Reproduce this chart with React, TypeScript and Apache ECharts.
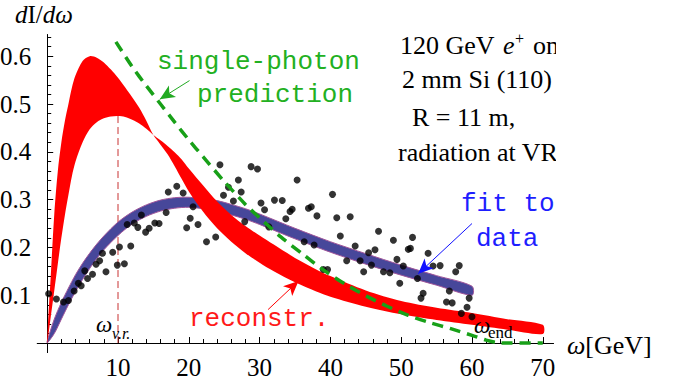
import React, { useEffect, useRef } from 'react';
import * as echarts from 'echarts';

// ---- axis ticks ----
const xTickLabels = [10, 20, 30, 40, 50, 60, 70];
const xMinorTicks = [2, 4, 6, 8, 12, 14, 16, 18, 22, 24, 26, 28, 32, 34, 36, 38, 42, 44, 46, 48, 52, 54, 56, 58, 62, 64, 66, 68];
const yTickLabels = [0.1, 0.2, 0.3, 0.4, 0.5, 0.6];
const yMinorTicks = [0.02, 0.04, 0.06, 0.08, 0.12, 0.14, 0.16, 0.18, 0.22, 0.24, 0.26, 0.28, 0.32, 0.34, 0.36, 0.38, 0.42, 0.44, 0.46, 0.48, 0.52, 0.54, 0.56, 0.58, 0.62, 0.64];

// ---- reconstruction band (red): two bounding curves ----
const reconOmega = [0, 0.5, 1, 1.5, 2, 2.5, 3, 3.5, 4, 5, 6, 7, 8, 9, 10, 11, 12, 13, 14, 15, 16, 17, 18, 19, 20, 22, 24, 26, 28, 30, 32, 35, 38, 40, 45, 50, 55, 60, 65, 70];
const reconCurveA = [0, 0.14, 0.27, 0.36, 0.42, 0.465, 0.5, 0.535, 0.56, 0.59, 0.6, 0.597, 0.587, 0.572, 0.555, 0.535, 0.514, 0.492, 0.465, 0.435, 0.415, 0.395, 0.37, 0.343, 0.317, 0.275, 0.24, 0.212, 0.188, 0.168, 0.15, 0.127, 0.108, 0.097, 0.076, 0.06, 0.048, 0.038, 0.028, 0.019];
const reconCurveB = [0, 0.055, 0.11, 0.166, 0.22, 0.268, 0.31, 0.35, 0.38, 0.42, 0.447, 0.462, 0.47, 0.474, 0.475, 0.473, 0.467, 0.459, 0.448, 0.435, 0.424, 0.412, 0.399, 0.384, 0.365, 0.33, 0.296, 0.268, 0.245, 0.225, 0.206, 0.178, 0.154, 0.14, 0.11, 0.088, 0.074, 0.063, 0.05, 0.038];

// ---- fit to data band (blue) ----
const fitOmega = [0, 1, 2, 3, 4, 5, 6, 7, 8, 10, 12, 14, 16, 18, 20, 22, 24, 26, 28, 30, 35, 40, 45, 50, 55, 60];
const fitLower = [0, 0.02, 0.05, 0.08, 0.108, 0.133, 0.156, 0.177, 0.195, 0.225, 0.249, 0.265, 0.276, 0.282, 0.284, 0.281, 0.276, 0.268, 0.259, 0.248, 0.218, 0.19, 0.165, 0.142, 0.121, 0.1];
const fitUpper = [0.004, 0.05, 0.085, 0.115, 0.143, 0.167, 0.188, 0.207, 0.224, 0.253, 0.274, 0.289, 0.299, 0.304, 0.305, 0.302, 0.298, 0.29, 0.281, 0.27, 0.24, 0.212, 0.187, 0.163, 0.141, 0.119];

// ---- single-photon prediction (green dashed) ----
const predOmega = [9.7, 12, 14, 16, 18, 20, 22, 25, 28, 30, 33, 36, 39, 42, 45, 48, 51, 54, 57, 60, 62, 63.5, 65, 70];
const predValue = [0.63, 0.578, 0.538, 0.5, 0.462, 0.425, 0.39, 0.338, 0.29, 0.262, 0.222, 0.187, 0.153, 0.124, 0.099, 0.077, 0.058, 0.043, 0.03, 0.016, 0.006, 0.001, 0, 0];

// ---- measured data points ----
const dataOmega = [0.2, 1.3, 2.3, 3.0, 3.8, 4.4, 4.8, 5.3, 5.7, 6.4, 6.9, 7.4, 7.8, 8.3, 9.25, 9.9, 10.2, 10.9, 11.8, 11.3, 12.3, 12.8, 13.3, 13.9, 14.4, 15.2, 15.8, 16.8, 17.1, 18.3, 19.2, 19.7, 20.2, 20.6, 21.3, 22.5, 23.8, 24.4, 24.9, 25.6, 26.3, 27.0, 27.4, 27.9, 28.8, 29.7, 30.2, 30.7, 31.3, 32.1, 33.2, 33.7, 34.3, 34.6, 35.3, 36.3, 36.9, 37.3, 37.7, 38.1, 39.0, 39.6, 40.3, 40.9, 41.4, 42.3, 42.8, 43.5, 44.2, 44.7, 45.4, 45.8, 46.3, 46.8, 47.5, 48.4, 48.9, 49.4, 49.8, 50.3, 51.0, 51.3, 51.6, 52.3, 52.8, 53.1, 53.8, 54.5, 55.5, 56.4, 56.8, 57.2, 57.7, 58.2, 58.5, 59.3, 59.6, 60.0];
const dataValue = [0.103, 0.092, 0.086, 0.089, 0.109, 0.125, 0.12, 0.151, 0.135, 0.144, 0.165, 0.172, 0.188, 0.149, 0.19, 0.163, 0.201, 0.166, 0.203, 0.248, 0.251, 0.242, 0.268, 0.232, 0.24, 0.251, 0.25, 0.273, 0.316, 0.328, 0.314, 0.241, 0.261, 0.285, 0.248, 0.212, 0.222, 0.373, 0.309, 0.326, 0.297, 0.341, 0.316, 0.254, 0.369, 0.364, 0.293, 0.279, 0.243, 0.299, 0.298, 0.26, 0.275, 0.28, 0.341, 0.212, 0.282, 0.285, 0.205, 0.266, 0.154, 0.154, 0.311, 0.262, 0.224, 0.172, 0.264, 0.203, 0.172, 0.149, 0.189, 0.163, 0.195, 0.234, 0.149, 0.147, 0.215, 0.175, 0.125, 0.161, 0.196, 0.198, 0.221, 0.135, 0.094, 0.104, 0.188, 0.161, 0.162, 0.086, 0.109, 0.084, 0.149, 0.162, 0.062, 0.075, 0.094, 0.055];

// ---- omega_v.r. marker ----
const vrOmega = [10, 10];
const vrValue = [0, 0.475];

const SERIF = 'Liberation Serif';
const MONO = 'Liberation Mono';

function band(name: string, xs: number[], first: number[], second: number[], fill: string, stroke: string, lw: number, z: number) {
  return {
    type: 'custom',
    name,
    z,
    silent: true,
    data: xs.map((x, i) => [x, first[i], second[i]]),
    encode: { x: 0, y: [1, 2] },
    renderItem: (params: any, api: any) => {
      if (params.dataIndex !== 0) return null;
      const pts: number[][] = [];
      for (let i = 0; i < xs.length; i++) pts.push(api.coord([xs[i], first[i]]));
      for (let i = xs.length - 1; i >= 0; i--) {
        if (i === 0 && first[0] === second[0]) continue;
        pts.push(api.coord([xs[i], second[i]]));
      }
      return {
        type: 'polygon',
        shape: { points: pts, smooth: 0.3 },
        style: { fill, stroke, lineWidth: lw },
      };
    },
  };
}

export default function App() {
  const ref = useRef<HTMLDivElement>(null);
  useEffect(() => {
    const chart = echarts.init(ref.current!, null, { renderer: 'svg' });
    const axisCommon = {
      type: 'value',
      splitLine: { show: false },
      axisLine: { show: true, onZero: true, onZeroAxisIndex: 0, lineStyle: { color: '#000', width: 1 } },
    };
    const option: any = {
      animation: false,
      backgroundColor: '#fff',
      grid: { left: 37.3, right: 128.6, top: 34.7, bottom: 27.4, containLabel: false, outerBoundsMode: 'none' },
      xAxis: [
        {
          ...axisCommon,
          position: 'bottom',
          min: -1.4,
          max: 71.5,
          axisTick: { show: true, inside: true, length: 6, customValues: xTickLabels, lineStyle: { color: '#000' } },
          axisLabel: { show: true, customValues: xTickLabels, color: '#000', fontFamily: SERIF, fontSize: 25, margin: 2, lineHeight: 26 },
        },
        {
          ...axisCommon,
          position: 'bottom',
          min: -1.4,
          max: 71.5,
          axisTick: { show: true, inside: true, length: 4, customValues: xMinorTicks, lineStyle: { color: '#000' } },
          axisLabel: { show: false },
        },
      ],
      yAxis: [
        {
          ...axisCommon,
          position: 'left',
          min: -0.02,
          max: 0.645,
          axisTick: { show: true, inside: true, length: 6, customValues: yTickLabels, lineStyle: { color: '#000' } },
          axisLabel: {
            show: true,
            customValues: yTickLabels,
            formatter: (v: number) => v.toFixed(1),
            color: '#000',
            fontFamily: SERIF,
            fontSize: 25,
            margin: 6,
          },
        },
        {
          ...axisCommon,
          position: 'left',
          min: -0.02,
          max: 0.645,
          axisTick: { show: true, inside: true, length: 4, customValues: yMinorTicks, lineStyle: { color: '#000' } },
          axisLabel: { show: false },
        },
      ],
      series: [
        {
          type: 'line',
          name: 'vr',
          z: 1,
          data: vrOmega.map((x, i) => [x, vrValue[i]]),
          showSymbol: false,
          silent: true,
          lineStyle: { color: '#c83232', width: 1, type: [7, 4] },
        },
        band('fit', fitOmega, fitUpper, fitLower, '#47479a', '#a0559a', 1, 2),
        band('reconstr', reconOmega, reconCurveA, reconCurveB, '#ff0000', 'none', 0, 3),
        {
          type: 'scatter',
          name: 'data',
          z: 4,
          silent: true,
          symbol: 'circle',
          symbolSize: 7,
          itemStyle: { color: '#000' },
          data: dataOmega.map((x, i) => [x, dataValue[i]]),
        },
        {
          type: 'line',
          name: 'single-photon',
          z: 5,
          silent: true,
          smooth: 0.25,
          showSymbol: false,
          data: predOmega.map((x, i) => [x, predValue[i]]),
          lineStyle: { color: '#18a018', width: 3.5, type: [11, 7], cap: 'butt' },
          markLine: {
            silent: true,
            symbol: ['none', 'arrow'],
            symbolSize: [10, 15],
            label: { show: false },
            emphasis: { disabled: true },
            data: [
              [{ coord: [20.1, 0.549], lineStyle: { color: '#22aa22', width: 1, type: 'solid' } }, { coord: [15.9, 0.51] }],
              [{ coord: [60.0, 0.25], lineStyle: { color: '#1010ff', width: 1, type: 'solid' } }, { coord: [52.4, 0.145] }],
              [{ coord: [31.2, 0.07], lineStyle: { color: '#ff0000', width: 1, type: 'solid' } }, { coord: [35.5, 0.13] }],
            ],
          },
        },
      ],
      graphic: [
        {
          type: 'text', x: 15, y: 14, z: 10,
          style: {
            text: '{i|d}{n|I/}{i|dω}',
            verticalAlign: 'middle',
            rich: {
              i: { fontFamily: SERIF, fontSize: 25, fontStyle: 'italic', fill: '#000' },
              n: { fontFamily: SERIF, fontSize: 25, fill: '#000' },
            },
          },
        },
        {
          type: 'text', x: 567, y: 345, z: 10,
          style: {
            text: '{i|ω}{n|[GeV]}',
            verticalAlign: 'middle',
            rich: {
              i: { fontFamily: SERIF, fontSize: 26, fontStyle: 'italic', fill: '#000' },
              n: { fontFamily: SERIF, fontSize: 26, fill: '#000' },
            },
          },
        },
        { type: 'text', x: 400, y: 45, z: 10, style: { text: '120 GeV', fontFamily: SERIF, fontSize: 26, fill: '#000', verticalAlign: 'middle' } },
        { type: 'text', x: 503, y: 45, z: 10, style: { text: 'e', fontFamily: SERIF, fontSize: 26, fontStyle: 'italic', fill: '#000', verticalAlign: 'middle' } },
        { type: 'text', x: 515, y: 38, z: 10, style: { text: '+', fontFamily: SERIF, fontSize: 16, fill: '#000', verticalAlign: 'middle' } },
        { type: 'text', x: 533, y: 45, z: 10, style: { text: 'on', fontFamily: SERIF, fontSize: 26, fill: '#000', verticalAlign: 'middle' } },
        { type: 'text', x: 402, y: 79, z: 10, style: { text: '2 mm Si (110)', fontFamily: SERIF, fontSize: 26, fill: '#000', verticalAlign: 'middle' } },
        { type: 'text', x: 412, y: 117, z: 10, style: { text: 'R = 11 m,', fontFamily: SERIF, fontSize: 26, fill: '#000', verticalAlign: 'middle' } },
        { type: 'text', x: 398, y: 152, z: 10, style: { text: 'radiation at VR', fontFamily: SERIF, fontSize: 26, fill: '#000', verticalAlign: 'middle' } },
        { type: 'rect', z: 11, shape: { x: 556, y: 22, width: 126, height: 150 }, style: { fill: '#fff' } },
        { type: 'text', x: 157, y: 62, z: 10, style: { text: 'single-photon', fontFamily: MONO, fontSize: 26, fill: '#22b022', verticalAlign: 'middle' } },
        { type: 'text', x: 197, y: 95, z: 10, style: { text: 'prediction', fontFamily: MONO, fontSize: 26, fill: '#22b022', verticalAlign: 'middle' } },
        { type: 'text', x: 461, y: 204, z: 10, style: { text: 'fit to', fontFamily: MONO, fontSize: 26, fill: '#1e1eff', verticalAlign: 'middle' } },
        { type: 'text', x: 476, y: 239, z: 10, style: { text: 'data', fontFamily: MONO, fontSize: 26, fill: '#1e1eff', verticalAlign: 'middle' } },
        { type: 'text', x: 189, y: 319, z: 10, style: { text: 'reconstr.', fontFamily: MONO, fontSize: 26, fill: '#ff1a1a', verticalAlign: 'middle' } },
        { type: 'text', x: 96, y: 324, z: 10, style: { text: 'ω', fontFamily: SERIF, fontSize: 23, fontStyle: 'italic', fill: '#000', verticalAlign: 'middle' } },
        { type: 'text', x: 112, y: 333, z: 10, style: { text: 'v.r.', fontFamily: SERIF, fontSize: 16, fontStyle: 'italic', fill: '#000', verticalAlign: 'middle' } },
        { type: 'text', x: 474, y: 325, z: 10, style: { text: 'ω', fontFamily: SERIF, fontSize: 23, fontStyle: 'italic', fill: '#000', verticalAlign: 'middle' } },
        { type: 'text', x: 488, y: 332, z: 10, style: { text: 'end', fontFamily: SERIF, fontSize: 17, fill: '#000', verticalAlign: 'middle' } },
      ],
    };
    chart.setOption(option);
    return () => chart.dispose();
  }, []);
  return <div ref={ref} style={{ position: 'absolute', left: 0, top: 0, width: 682, height: 380, background: '#fff' }} />;
}
